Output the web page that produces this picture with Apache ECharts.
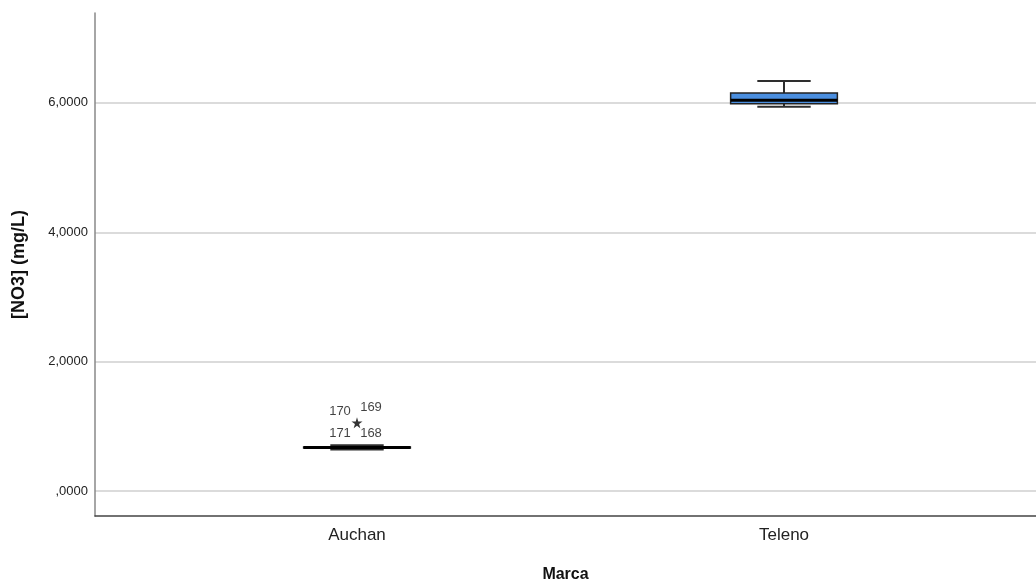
<!DOCTYPE html>
<html>
<head>
<meta charset="utf-8">
<script src="https://cdn.jsdelivr.net/npm/echarts@6/dist/echarts.min.js"></script>
<style>
html,body{margin:0;padding:0;background:#fff;}
#chart{width:1036px;height:583px;}
</style>
</head>
<body>
<div id="chart"></div>
<script>
// ---- data ----
var categories = ['Auchan', 'Teleno'];
// [low whisker, Q1, median, Q3, high whisker]
var auchanBox = [0.64, 0.665, 0.673, 0.68, 0.705];
var telenoBox = [5.94, 5.985, 6.04, 6.155, 6.34];
var outlierCategory = 'Auchan';
var outlierValue = 1.056;
var outlierIds = ['170', '169', '171', '168'];
var yTickValues = [0, 2, 4, 6];
var yMin = -0.387, yMax = 7.39;
var yAxisTitle = '[NO3] (mg/L)';
var xAxisTitle = 'Marca';

var boxes = [auchanBox, telenoBox];
var boxData = boxes.map(function (b, i) { return [i].concat(b); });

var FONT = 'Liberation Sans, Arial, sans-serif';
var labelOffsets = [[-17, -11], [14, -15], [-17, 11], [14, 11]];

function fmt(v) {
  var s = v.toFixed(4).replace('.', ',');
  if (s.indexOf('0,') === 0) s = s.slice(1);
  return s;
}

var starPath = 'path://M50,0 L61,35 L98,35 L68,57 L79,91 L50,70 L21,91 L32,57 L2,35 L39,35 Z';

var chart = echarts.init(document.getElementById('chart'), null, {renderer: 'canvas'});
chart.setOption({
  backgroundColor: '#ffffff',
  animation: false,
  grid: [
    {left: 95, right: 0, top: 13, bottom: 67, containLabel: false, outerBoundsMode: 'none'},
    {left: 143.5, right: 38.5, top: 13, bottom: 67, containLabel: false, outerBoundsMode: 'none'}
  ],
  xAxis: [
    {
      gridIndex: 0, type: 'value', min: 0, max: 1,
      axisLine: {show: true, onZero: false, lineStyle: {color: '#444', width: 1.5}},
      axisTick: {show: false}, axisLabel: {show: false}, splitLine: {show: false},
      name: xAxisTitle, nameLocation: 'middle', nameGap: 51,
      nameTextStyle: {fontFamily: FONT, fontSize: 16, fontWeight: 'bold', color: '#111'}
    },
    {
      gridIndex: 1, type: 'category', data: categories, boundaryGap: true,
      axisLine: {show: false, onZero: false}, axisTick: {show: false}, splitLine: {show: false},
      axisLabel: {fontFamily: FONT, fontSize: 17, color: '#222', margin: 11}
    }
  ],
  yAxis: [
    {
      gridIndex: 0, type: 'value', min: yMin, max: yMax, splitNumber: 4,
      axisLine: {show: true, onZero: false, lineStyle: {color: '#888', width: 1.5}},
      axisTick: {show: false},
      axisLabel: {
        fontFamily: FONT, fontSize: 13, color: '#222', margin: 7,
        showMinLabel: false, showMaxLabel: false,
        formatter: function (v) {
          return yTickValues.indexOf(Math.round(v * 1e6) / 1e6) >= 0 ? fmt(v) : '';
        }
      },
      splitLine: {show: true, showMinLine: false, showMaxLine: false, lineStyle: {color: '#cfcfcf', width: 1.5}},
      name: yAxisTitle, nameLocation: 'middle', nameGap: 67,
      nameTextStyle: {fontFamily: FONT, fontSize: 18, fontWeight: 'bold', color: '#111'}
    },
    {
      gridIndex: 1, type: 'value', min: yMin, max: yMax, show: false,
      splitLine: {show: false}
    }
  ],
  series: [
    {
      type: 'custom',
      xAxisIndex: 1, yAxisIndex: 1,
      data: boxData,
      encode: {x: 0, y: [1, 2, 3, 4, 5]},
      renderItem: function (params, api) {
        var idx = api.value(0);
        var pLow = api.coord([idx, api.value(1)]);
        var pQ1 = api.coord([idx, api.value(2)]);
        var pMed = api.coord([idx, api.value(3)]);
        var pQ3 = api.coord([idx, api.value(4)]);
        var pHigh = api.coord([idx, api.value(5)]);
        var bandW = api.size([1, 0])[0];
        var boxW = bandW * 0.25;
        var capW = boxW / 2;
        var cx = pMed[0];
        var whisk = {stroke: '#2e2e2e', lineWidth: 2};
        return {
          type: 'group',
          children: [
            {type: 'line', shape: {x1: cx, y1: pHigh[1], x2: cx, y2: pQ3[1]}, style: whisk},
            {type: 'line', shape: {x1: cx, y1: pQ1[1], x2: cx, y2: pLow[1]}, style: whisk},
            {type: 'line', shape: {x1: cx - capW / 2, y1: pHigh[1], x2: cx + capW / 2, y2: pHigh[1]}, style: whisk},
            {type: 'line', shape: {x1: cx - capW / 2, y1: pLow[1], x2: cx + capW / 2, y2: pLow[1]}, style: whisk},
            {type: 'rect', shape: {x: cx - boxW / 2, y: pQ3[1], width: boxW, height: pQ1[1] - pQ3[1]},
              style: {fill: '#4b8fe0', stroke: '#222', lineWidth: 1.5}},
            {type: 'line', shape: {x1: cx - boxW / 2, y1: pMed[1], x2: cx + boxW / 2, y2: pMed[1]},
              style: {stroke: '#000', lineWidth: 3}}
          ]
        };
      }
    },
    {
      type: 'scatter',
      xAxisIndex: 1, yAxisIndex: 1,
      symbol: starPath, symbolSize: 11,
      itemStyle: {color: '#000'},
      data: [[outlierCategory, outlierValue]],
      z: 5
    },
    {
      type: 'scatter',
      xAxisIndex: 1, yAxisIndex: 1,
      symbolSize: 0,
      data: outlierIds.map(function (id, i) {
        return {
          value: [outlierCategory, outlierValue],
          label: {
            show: true, formatter: id, position: 'inside',
            offset: labelOffsets[i],
            fontFamily: FONT, fontSize: 13, color: '#111'
          }
        };
      }),
      z: 6
    }
  ]
});
</script>
</body>
</html>
